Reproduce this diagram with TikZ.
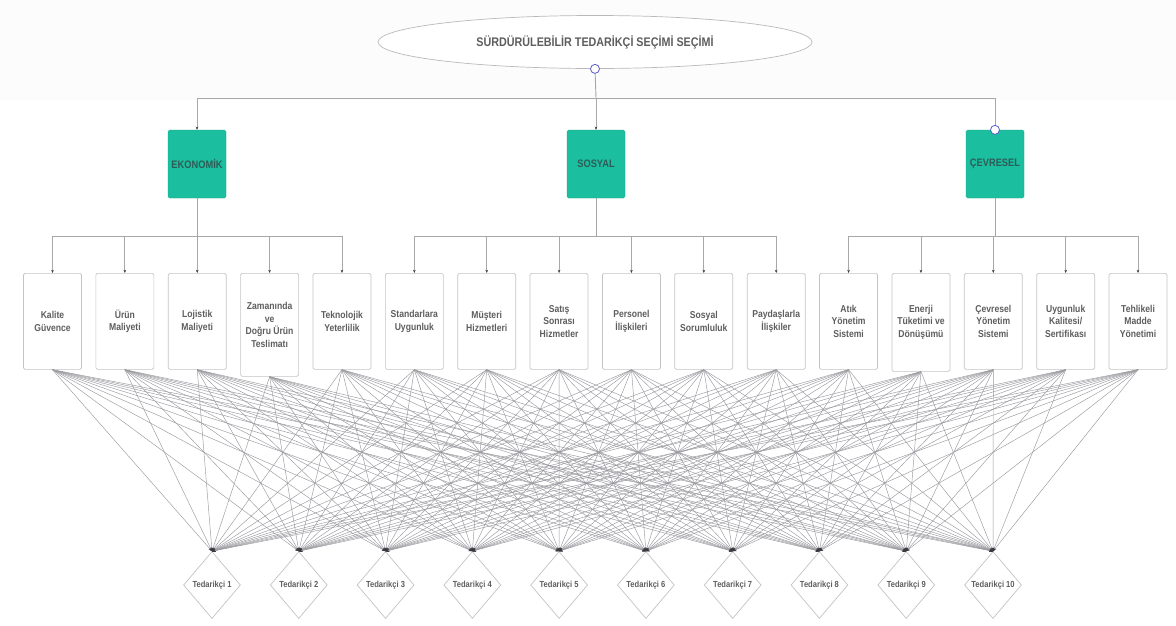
\documentclass[tikz,border=0pt]{standalone}
\usepackage{fontspec}
\setmainfont{Liberation Sans}
\newfontfamily\nar[FakeStretch=0.86]{Liberation Sans}
\usetikzlibrary{shapes.geometric,arrows.meta,calc}
\definecolor{tealbox}{HTML}{1BBF9F}
\definecolor{tealtext}{HTML}{2D5C58}
\definecolor{txtgray}{HTML}{5E5E5E}
\definecolor{boxline}{HTML}{C4C4C4}
\definecolor{treeline}{HTML}{A8A8A8}
\definecolor{fanline}{HTML}{9A9AA0}
\definecolor{tipcol}{HTML}{3A3A40}
\definecolor{portblue}{HTML}{5C5CC8}
\begin{document}
\begin{tikzpicture}[x=1pt,y=-1pt,
  titlebox/.style={ellipse,draw=gray!55,fill=white,line width=0.7pt,minimum width=434pt,minimum height=53pt,inner sep=0pt,
    font=\nar\fontsize{12.5}{14}\selectfont\bfseries,text=txtgray},
  port/.style={circle,draw=portblue,fill=white,line width=0.8pt,minimum size=9pt,inner sep=0pt},
  catbox/.style={rectangle,rounded corners=1.5pt,fill=tealbox,draw=tealbox!85!black,line width=0.3pt,minimum width=58pt,minimum height=68pt,inner sep=0pt,
    font=\nar\fontsize{10.8}{13}\selectfont\bfseries,text=tealtext},
  critbox/.style={rectangle,rounded corners=1.5pt,draw=boxline,fill=white,line width=0.7pt,minimum width=58pt,inner sep=1pt,align=center,anchor=north,
    font=\nar\fontsize{10}{12.8}\selectfont\bfseries,text=txtgray},
  supbox/.style={diamond,draw=boxline,fill=white,line width=0.7pt,minimum width=57pt,minimum height=67pt,aspect=0.85,inner sep=0pt,
    font=\nar\fontsize{8.8}{10}\selectfont\bfseries,text=txtgray},
  tree/.style={draw=treeline,line width=0.8pt,-{Stealth[length=3.2pt,width=2.6pt,color=tipcol]}},
  treestem/.style={draw=gray!70,line width=0.9pt},
  fan/.style={draw=fanline,line width=0.45pt,-{Stealth[length=3.5pt,width=3pt,color=tipcol]}}
]
\useasboundingbox (0,0) rectangle (1176,625);
\fill[white] (0,0) rectangle (1176,625);
\fill[black!1.2] (0,0) rectangle (1176,100);

% title
\node[titlebox] (title) at (595,42) {SÜRDÜRÜLEBİLİR TEDARİKÇİ SEÇİMİ SEÇİMİ};

% categories
\node[catbox] (eko) at (197,164) {EKONOMİK};
\node[catbox] (sos) at (596,164) {SOSYAL};
\node[catbox] (cev) at (995,164) {ÇEVRESEL};

% top tree
\coordinate (bus) at (596,98);
\draw[treestem] (title.south) -- (bus);
\draw[tree] (bus) -| (eko.north);
\draw[tree] (bus) -| (cev.north);
\draw[tree] (bus) -- (sos.north);

% criteria
\foreach \i/\t/\h in {
  1/{Kalite\\Güvence}/96,
  2/{Ürün\\Maliyeti}/96,
  3/{Lojistik\\Maliyeti}/96,
  4/{Zamanında\\ve\\Doğru Ürün\\Teslimatı}/103,
  5/{Teknolojik\\Yeterlilik}/96,
  6/{Standarlara\\Uygunluk}/96,
  7/{Müşteri\\Hizmetleri}/96,
  8/{Satış\\Sonrası\\Hizmetler}/96,
  9/{Personel\\İlişkileri}/96,
  10/{Sosyal\\Sorumluluk}/96,
  11/{Paydaşlarla\\İlişkiler}/96,
  12/{Atık\\Yönetim\\Sistemi}/96,
  13/{Enerji\\Tüketimi ve\\Dönüşümü}/98,
  14/{Çevresel\\Yönetim\\Sistemi}/96,
  15/{Uygunluk\\Kalitesi/\\Sertifikası}/96,
  16/{Tehlikeli\\Madde\\Yönetimi}/96}{
  \node[critbox,minimum height=\h pt] (c\i) at ({52.5+72.37*(\i-1)},273) {\t};
}

% category buses
\coordinate (ebus) at (197,236);
\coordinate (sbus) at (596,236);
\coordinate (cbus) at (995,236);
\draw[treestem] (eko.south) -- (ebus);
\draw[treestem] (sos.south) -- (sbus);
\draw[treestem] (cev.south) -- (cbus);
\foreach \i in {1,...,5}{\draw[tree] (ebus) -| (c\i.north);}
\foreach \i in {6,...,11}{\draw[tree] (sbus) -| (c\i.north);}
\foreach \i in {12,...,16}{\draw[tree] (cbus) -| (c\i.north);}

% suppliers
\foreach \j in {1,...,10}{
  \node[supbox] (s\j) at ({212+86.78*(\j-1)},585) {Tedarikçi \j};
}

% fan connectors
\foreach \i in {1,...,16}{
  \foreach \j in {1,...,10}{
    \draw[fan] (c\i.south) -- (s\j.north);
  }
}

% ports
\node[port] (tport) at (title.south) {};
\node[port] (cport) at (cev.north) {};
\end{tikzpicture}
\end{document}
